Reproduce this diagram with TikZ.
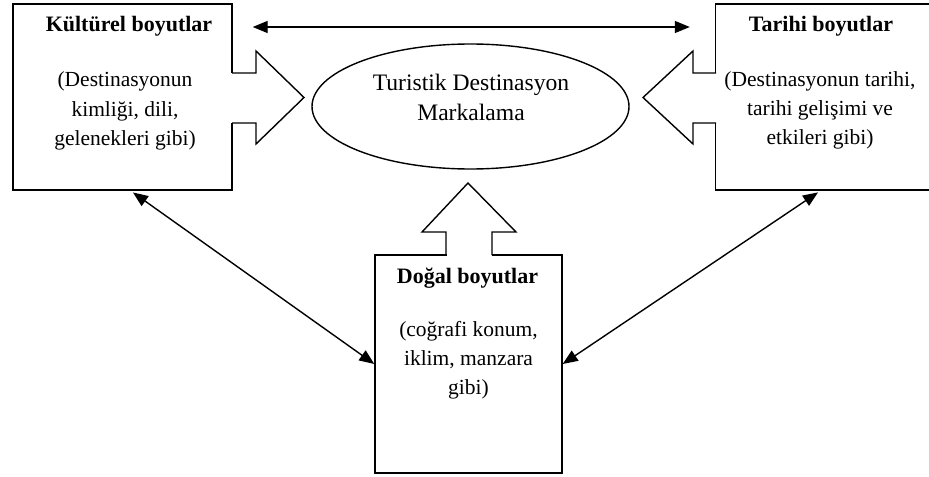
\documentclass[tikz,border=0pt]{standalone}
\usepackage{fontspec}
\setmainfont{Liberation Serif}
\usetikzlibrary{arrows.meta, shapes.geometric}

\begin{document}
\begin{tikzpicture}[x=0.5pt, y=-0.5pt, line width=0.7pt,
kutu/.style={draw, rectangle, inner sep=0pt, fill=white},
baslik/.style={font={\fontsize{11}{14.5}\selectfont\bfseries}, anchor=base, inner sep=0pt},
metin/.style={font={\fontsize{10.75}{14.5}\selectfont}, align=center, anchor=base, inner sep=0pt},
ikili/.style={arrows={Triangle[length=7.5pt, width=6pt]-Triangle[length=7.5pt, width=6pt]}},
]
\useasboundingbox (0,0) rectangle (929,476);
\clip (0,0) rectangle (929,476);

% boxes
\node[kutu, minimum width=109.5pt, minimum height=93pt] (kultur) at (122.5,97) {};
\node[kutu, minimum width=109pt, minimum height=93pt] (tarih) at (824.5,97) {};
\node[kutu, minimum width=93.5pt, minimum height=109pt] (dogal) at (468.5,364) {};
\node[draw, ellipse, inner sep=0pt, minimum width=158.5pt, minimum height=62.5pt] (marka) at (470.5,106.5) {};

% texts (base = last line)
\node[baslik] (kultur1) at (129,32) {Kültürel boyutlar};
\node[metin] (kultur2) at (125,145) {(Destinasyonun\\kimliği, dili,\\gelenekleri gibi)};
\node[baslik] (tarih1) at (821,32) {Tarihi boyutlar};
\node[metin] (tarih2) at (820,144) {(Destinasyonun tarihi,\\tarihi gelişimi ve\\etkileri gibi)};
\node[baslik] (dogal1) at (467.5,283) {Doğal boyutlar};
\node[metin] (dogal2) at (468.5,394) {(coğrafi konum,\\iklim, manzara\\gibi)};
\node[metin, font={\fontsize{11.8}{15}\selectfont}] (marka1) at (471,120) {Turistik Destinasyon\\Markalama};

% block arrows
\fill[white] (229,73.5) rectangle (240,122.5);
\draw (232,73) -- (256,73) -- (256,51) -- (304,97.5) -- (256,144) -- (256,123) -- (232,123);
\fill[white] (705,73.5) rectangle (719,122.5);
\draw (716,73) -- (693,73) -- (693,51) -- (643,97.5) -- (693,144) -- (693,123) -- (716,123);
\fill[white] (446.5,245) rectangle (491.5,258);
\draw (446,255) -- (446,232) -- (422,232) -- (468,183) -- (516,232) -- (492,232) -- (492,255);

% connectors
\draw[ikili, shorten <=10pt, shorten >=12.5pt] (kultur.east |- 0,27) -- (tarih.west |- 0,27);
\draw[ikili, shorten <=1.5pt] ([xshift=4pt]kultur.south) -- (dogal.west);
\draw[ikili, shorten <=1.5pt] ([xshift=-2pt]tarih.south) -- (dogal.east);

\end{tikzpicture}
\end{document}
